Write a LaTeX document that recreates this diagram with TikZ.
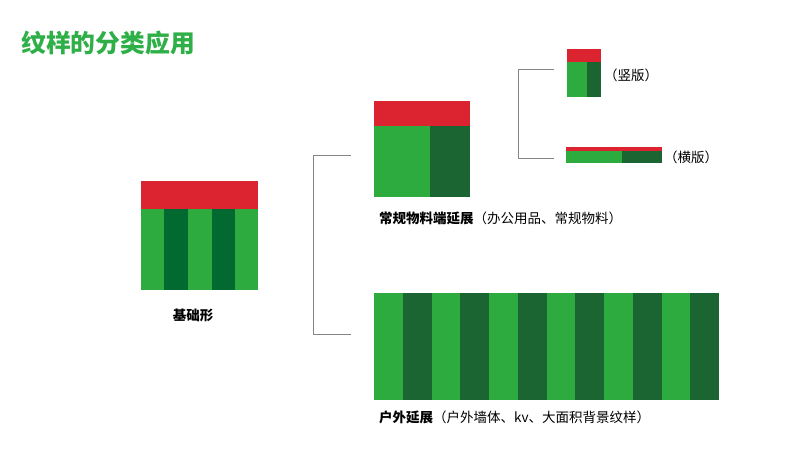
\documentclass[tikz,border=0pt]{standalone}
\usepackage{fontspec}
\setmainfont{Noto Sans CJK SC}
\definecolor{pred}{HTML}{DB2430}
\definecolor{plight}{HTML}{2EAB3E}
\definecolor{pdark}{HTML}{1B6532}
\definecolor{pdarkb}{HTML}{026A31}
\definecolor{ptitle}{HTML}{2FAF47}
\definecolor{pline}{HTML}{858585}
\tikzset{
  redbar/.style={fill=pred},
  lightbar/.style={fill=plight},
  darkbar/.style={fill=pdark},
  bracketline/.style={draw=pline,line width=0.9pt},
  label/.style={inner sep=0pt,font=\fontsize{13.5}{16}\selectfont,text=black},
}
\begin{document}
\begin{tikzpicture}[x=1pt,y=-1pt]
\useasboundingbox (0,0) rectangle (800,452);
% title
\node[anchor=west,inner sep=0pt,text=ptitle,font=\fontsize{24.8}{28}\selectfont\bfseries] (title) at (21,43) {纹样的分类应用};

% basic shape
\fill[redbar] (141,181) rectangle (258,209);
\fill[lightbar] (141,209) rectangle (258,290);
\fill[fill=pdarkb] (164.4,209) rectangle (187.8,290);
\fill[fill=pdarkb] (211.6,209) rectangle (235,290);
\node[label,font=\fontsize{13.5}{16}\selectfont\bfseries] (basic) at (193,315) {基础形};

% medium shape
\fill[redbar] (374,101) rectangle (470,126);
\fill[lightbar] (374,126) rectangle (430,197);
\fill[darkbar] (430,126) rectangle (470,197);
\node[label,anchor=west] (medium) at (379,218) {\textbf{常规物料端延展}（办公用品、常规物料）};

% small vertical
\fill[redbar] (567,49) rectangle (601,62);
\fill[lightbar] (567,62) rectangle (587,97);
\fill[darkbar] (587,62) rectangle (601,97);
\node[label,anchor=west] (vert) at (604,75) {（竖版）};

% small horizontal
\fill[redbar] (566,147) rectangle (662,151);
\fill[lightbar] (566,151) rectangle (622,163);
\fill[darkbar] (622,151) rectangle (662,163);
\node[label,anchor=west] (horiz) at (664,157) {（横版）};

% large
\fill[lightbar] (374,293) rectangle (719,400);
\foreach \i in {1,3,5,7,9,11} {
  \fill[darkbar] ({374+\i*28.75},293) rectangle ({374+(\i+1)*28.75},400);
}
\node[label,anchor=west] (large) at (379,417) {\textbf{户外延展}（户外墙体、kv、大面积背景纹样）};

% brackets
\coordinate (b1t) at (351,155);
\coordinate (b1b) at (351,334);
\path[bracketline] (b1t) -- (313,155) -- (313,334) -- (b1b);
\coordinate (b2t) at (554,69);
\coordinate (b2b) at (554,158);
\path[bracketline] (b2t) -- (518,69) -- (518,158) -- (b2b);
\end{tikzpicture}
\end{document}
